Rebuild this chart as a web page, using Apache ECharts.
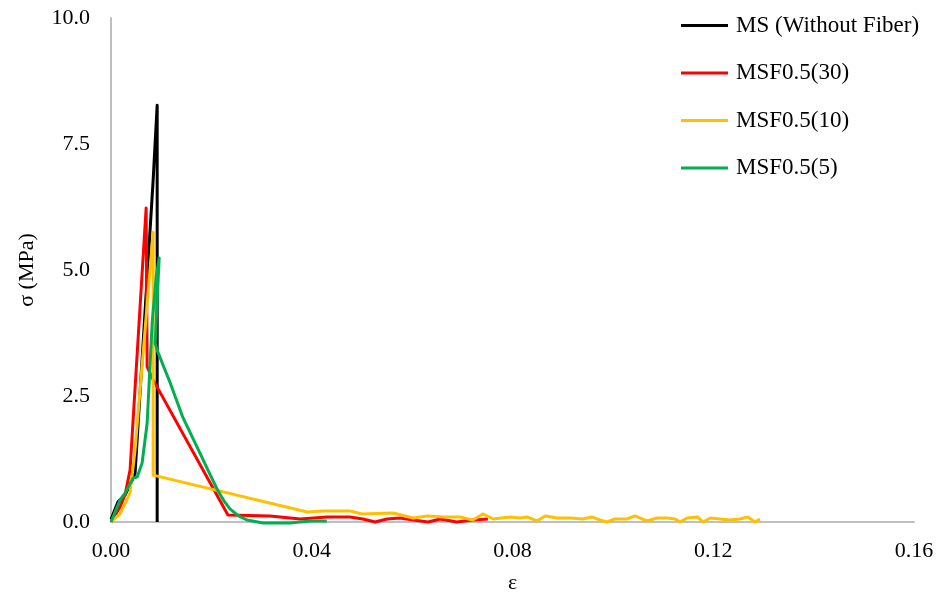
<!DOCTYPE html>
<html>
<head>
<meta charset="utf-8">
<title>Stress–strain curves</title>
<script src="https://cdn.jsdelivr.net/npm/echarts@6/dist/echarts.min.js"></script>
<style>
  html, body { margin: 0; padding: 0; background: #fff; }
  #chart { width: 940px; height: 599px; }
</style>
</head>
<body>
<div id="chart"></div>
<script>
// Series names as shown in the legend
const seriesNames = ['MS (Without Fiber)', 'MSF0.5(30)', 'MSF0.5(10)', 'MSF0.5(5)'];

// Strain ε / stress σ (MPa) pairs for each mix
const msData = [
  [0, 0.05], [0.0006, 0.2], [0.0014, 0.40], [0.0028, 0.54], [0.0038, 0.73],
  [0.0048, 0.97], [0.0084, 6.79], [0.0092, 8.27], [0.0092, 0]
];

const msf30Data = [
  [0, 0], [0.0018, 0.30], [0.0028, 0.54], [0.0038, 1.03], [0.0042, 1.69],
  [0.0070, 6.23], [0.0072, 3.08], [0.0084, 2.82], [0.0233, 0.14], [0.0317, 0.12],
  [0.0377, 0.06], [0.0430, 0.10], [0.0476, 0.10], [0.0502, 0.06], [0.0526, 0.0],
  [0.0550, 0.06], [0.0576, 0.08], [0.0602, 0.04], [0.0632, 0.0], [0.0656, 0.06],
  [0.0689, 0.0], [0.0721, 0.04], [0.0751, 0.06]
];

const msf10Data = [
  [0, 0], [0.0018, 0.16], [0.0038, 0.58], [0.0048, 1.43], [0.0084, 5.75],
  [0.0084, 0.93], [0.0391, 0.20], [0.0422, 0.22], [0.0476, 0.22], [0.0500, 0.16],
  [0.0562, 0.18], [0.0602, 0.08], [0.0630, 0.12], [0.0662, 0.10], [0.0695, 0.10],
  [0.0721, 0.04], [0.0741, 0.16], [0.0761, 0.06], [0.0795, 0.10], [0.0815, 0.08],
  [0.0829, 0.10], [0.0849, 0.02], [0.0865, 0.12], [0.0889, 0.08], [0.0915, 0.08],
  [0.0940, 0.06], [0.0958, 0.10], [0.0974, 0.04], [0.0988, 0.0], [0.1004, 0.06],
  [0.1028, 0.06], [0.1044, 0.12], [0.1068, 0.02], [0.1088, 0.08], [0.1108, 0.08],
  [0.1124, 0.06], [0.1134, 0.0], [0.1148, 0.08], [0.1168, 0.10], [0.1180, 0.0],
  [0.1194, 0.08], [0.1213, 0.06], [0.1233, 0.04], [0.1253, 0.06], [0.1269, 0.10],
  [0.1283, 0.0], [0.1293, 0.06]
];

const msf5Data = [
  [0, 0], [0.0018, 0.44], [0.0028, 0.57], [0.0044, 0.87], [0.0052, 0.89],
  [0.0062, 1.17], [0.0072, 1.96], [0.0082, 3.95], [0.0090, 4.86], [0.0096, 5.24],
  [0.0088, 3.55], [0.0092, 3.41], [0.0105, 3.08], [0.0118, 2.76], [0.0143, 2.08],
  [0.0177, 1.37], [0.0197, 0.95], [0.0211, 0.66], [0.0225, 0.42], [0.0237, 0.26],
  [0.0254, 0.12], [0.0271, 0.04], [0.0303, -0.02], [0.0357, -0.02],
  [0.0397, 0.02], [0.0430, 0.02]
];

// Axis ranges and tick spacing
const xTicks = { min: 0, max: 0.16, interval: 0.04 };
const yTicks = { min: 0, max: 10, interval: 2.5 };

const seriesColors = ['#000000', '#ff0000', '#ffc000', '#00b050'];
const seriesData = [msData, msf30Data, msf10Data, msf5Data];

const FONT = "'Times New Roman', 'Liberation Serif', serif";

const chart = echarts.init(document.getElementById('chart'), null, { renderer: 'canvas' });

chart.setOption({
  animation: false,
  backgroundColor: '#ffffff',
  grid: { left: 111, right: 26, top: 18, bottom: 77, containLabel: false },
  legend: {
    orient: 'vertical',
    left: 676,
    top: 9,
    icon: 'rect',
    itemWidth: 47,
    itemHeight: 3,
    itemGap: 24.5,
    data: seriesNames,
    textStyle: {
      fontFamily: FONT,
      fontSize: 23,
      lineHeight: 23,
      color: '#000',
      padding: [0, 0, 0, 3]
    }
  },
  xAxis: {
    type: 'value',
    min: xTicks.min,
    max: xTicks.max,
    interval: xTicks.interval,
    name: 'ε',
    nameLocation: 'middle',
    nameGap: 50,
    nameTextStyle: { fontFamily: FONT, fontSize: 22, color: '#000' },
    axisLine: { show: true, onZero: false, lineStyle: { color: '#bfbfbf', width: 2 } },
    axisTick: { show: false },
    splitLine: { show: false },
    axisLabel: {
      fontFamily: FONT, fontSize: 22, color: '#000', margin: 18,
      formatter: v => v.toFixed(2)
    }
  },
  yAxis: {
    type: 'value',
    min: yTicks.min,
    max: yTicks.max,
    interval: yTicks.interval,
    name: 'σ (MPa)',
    nameLocation: 'middle',
    nameGap: 73,
    nameRotate: 90,
    nameTextStyle: { fontFamily: FONT, fontSize: 22, color: '#000' },
    axisLine: { show: true, onZero: false, lineStyle: { color: '#bfbfbf', width: 2 } },
    axisTick: { show: false },
    splitLine: { show: false },
    axisLabel: {
      fontFamily: FONT, fontSize: 22, color: '#000', margin: 21,
      formatter: v => v.toFixed(1)
    }
  },
  series: seriesNames.map((name, i) => ({
    name: name,
    type: 'line',
    data: seriesData[i],
    showSymbol: false,
    symbol: 'none',
    clip: false,
    lineStyle: { color: seriesColors[i], width: 3, join: 'round' },
    itemStyle: { color: seriesColors[i] }
  }))
});
</script>
</body>
</html>
